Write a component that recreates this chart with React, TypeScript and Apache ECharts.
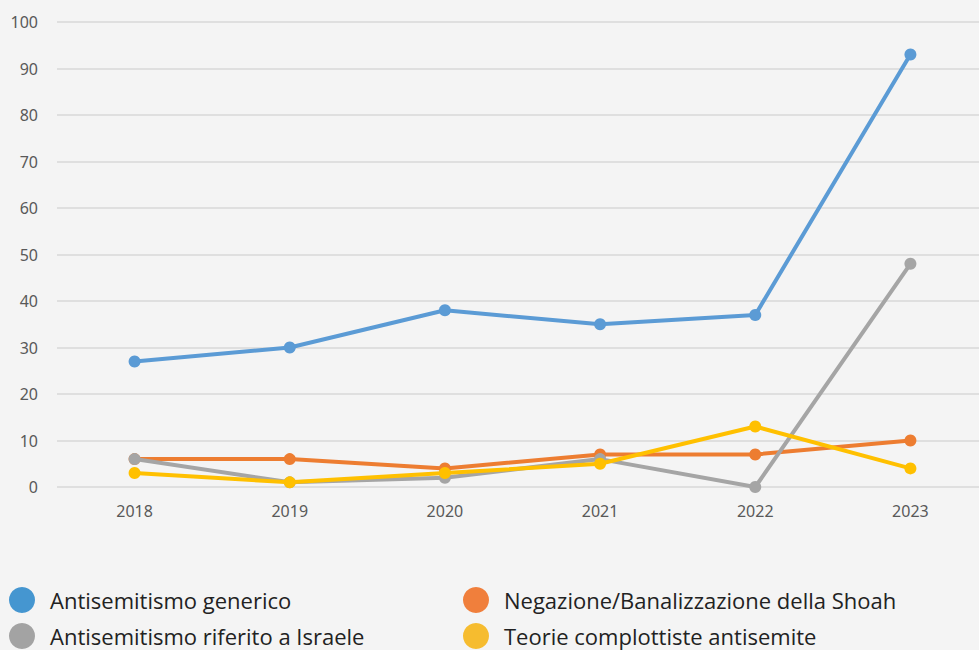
import React, { useEffect, useRef } from "react";
import * as echarts from "echarts";

const years = ["2018", "2019", "2020", "2021", "2022", "2023"];
const generico = [27, 30, 38, 35, 37, 93];
const negazione = [6, 6, 4, 7, 7, 10];
const israele = [6, 1, 2, 6, 0, 48];
const teorie = [3, 1, 3, 5, 13, 4];

const names = [
  "Antisemitismo generico",
  "Negazione/Banalizzazione della Shoah",
  "Antisemitismo riferito a Israele",
  "Teorie complottiste antisemite",
];
const colors = ["#5B9BD5", "#ED7D31", "#A5A5A5", "#FFC000"];
const legendColors = ["#4596D0", "#F07F3C", "#A3A3A3", "#F6BC2F"];

export default function App() {
  const ref = useRef<HTMLDivElement>(null);
  useEffect(() => {
    if (!ref.current) return;
    const chart = echarts.init(ref.current, undefined, { renderer: "svg" });
    const datasets = [generico, negazione, israele, teorie];
    const legendText = {
      fontFamily: "Open Sans",
      fontSize: 22,
      lineHeight: 24,
      color: "#222222",
      padding: [0, 0, 0, 10],
    };
    const legendPos = [
      { left: 9, top: 587 },
      { left: 463, top: 587 },
      { left: 9, top: 623 },
      { left: 463, top: 623 },
    ];
    chart.setOption({
      animation: false,
      backgroundColor: "#F4F4F4",
      grid: { left: 57, right: 0, top: 22, bottom: 163, containLabel: false },
      xAxis: {
        type: "category",
        data: years,
        boundaryGap: true,
        axisLine: { show: false },
        axisTick: { show: false },
        axisLabel: {
          color: "#595959",
          fontFamily: "Noto Sans",
          fontSize: 16,
          margin: 16,
        },
      },
      yAxis: {
        type: "value",
        min: 0,
        max: 100,
        interval: 10,
        axisLine: { show: false },
        axisTick: { show: false },
        splitLine: { lineStyle: { color: "#D9D9D9", width: 1.5 } },
        axisLabel: {
          color: "#595959",
          fontFamily: "Noto Sans",
          fontSize: 16,
          margin: 19,
        },
      },
      legend: names.map((n, i) => ({
        data: [{ name: n, itemStyle: { color: legendColors[i] } }],
        left: legendPos[i].left,
        top: legendPos[i].top,
        padding: 0,
        icon: "circle",
        itemWidth: 26,
        itemHeight: 26,
        textStyle: legendText,
      })),
      series: datasets.map((d, i) => ({
        name: names[i],
        type: "line",
        data: d,
        color: colors[i],
        symbol: "circle",
        symbolSize: 12,
        lineStyle: { width: 4, color: colors[i] },
        itemStyle: { color: colors[i] },
        z: 2 + i,
      })),
    });
    return () => chart.dispose();
  }, []);
  return (
    <div
      ref={ref}
      style={{ position: "fixed", left: 0, top: 0, width: 988, height: 650 }}
    />
  );
}
